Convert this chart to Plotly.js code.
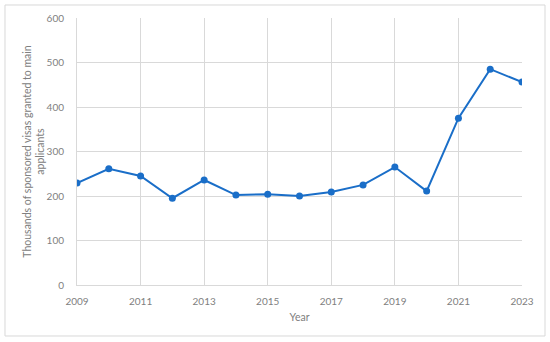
<!DOCTYPE html>
<html><head><meta charset="utf-8">
<script src="https://cdn.plot.ly/plotly-3.0.1.min.js"></script>
<style>html,body{margin:0;padding:0;background:#fff}#chart{width:550px;height:342px}</style>
</head><body><div id="chart"></div>
<script>
var years = [2009,2010,2011,2012,2013,2014,2015,2016,2017,2018,2019,2020,2021,2022,2023];
var visas = [229,261,245,195,236,202,204,200,209,225,265,211,375,485,456];
var xTicks = [2009,2011,2013,2015,2017,2019,2021,2023];
var yTicks = [0,100,200,300,400,500,600];
var yTitle = 'Thousands of sponsored visas granted to main<br>applicants';

var trace = {
  x: years, y: visas, type: 'scatter', mode: 'lines+markers',
  line: {color: '#1a6ec8', width: 2},
  marker: {color: '#1a6ec8', size: 7},
  hoverinfo: 'skip'
};
var font = {family: 'Lato, Open Sans, sans-serif', size: 10, color: '#808080'};
var titleFont = {family: 'Lato, Open Sans, sans-serif', size: 10.5, color: '#808080'};
var layout = {
  width: 550, height: 342,
  margin: {l: 77, r: 28, t: 18, b: 57},
  paper_bgcolor: '#fff', plot_bgcolor: '#fff',
  showlegend: false,
  font: font,
  xaxis: {
    range: [2009, 2023], tickvals: xTicks, ticktext: xTicks.map(String),
    showgrid: true, gridcolor: '#d9d9d9', gridwidth: 1,
    zeroline: false, showline: true, linecolor: '#d9d9d9', linewidth: 1,
    ticks: 'outside', ticklen: 7, tickcolor: 'rgba(0,0,0,0)', tickfont: font,
    title: {text: 'Year', font: titleFont, standoff: 7}
  },
  yaxis: {
    range: [0, 600], tickvals: yTicks,
    showgrid: true, gridcolor: '#d9d9d9', gridwidth: 1,
    zeroline: false, showline: true, linecolor: '#d9d9d9', linewidth: 1,
    ticks: 'outside', ticklen: 10, tickcolor: 'rgba(0,0,0,0)', tickfont: font
  },
  annotations: [{
    text: yTitle, textangle: -90, font: titleFont, showarrow: false,
    xref: 'paper', yref: 'paper', x: -0.0985, y: 0.5,
    xanchor: 'center', yanchor: 'middle', align: 'center'
  }],
  shapes: [{
    type: 'rect', xref: 'paper', yref: 'paper',
    x0: -0.1618, x1: 1.0517, y0: -0.191, y1: 1.0487,
    line: {color: '#d9d9d9', width: 1}, fillcolor: 'rgba(0,0,0,0)', layer: 'below'
  }]
};
Plotly.newPlot('chart', [trace], layout, {displayModeBar: false, staticPlot: true});
</script>
</body></html>
